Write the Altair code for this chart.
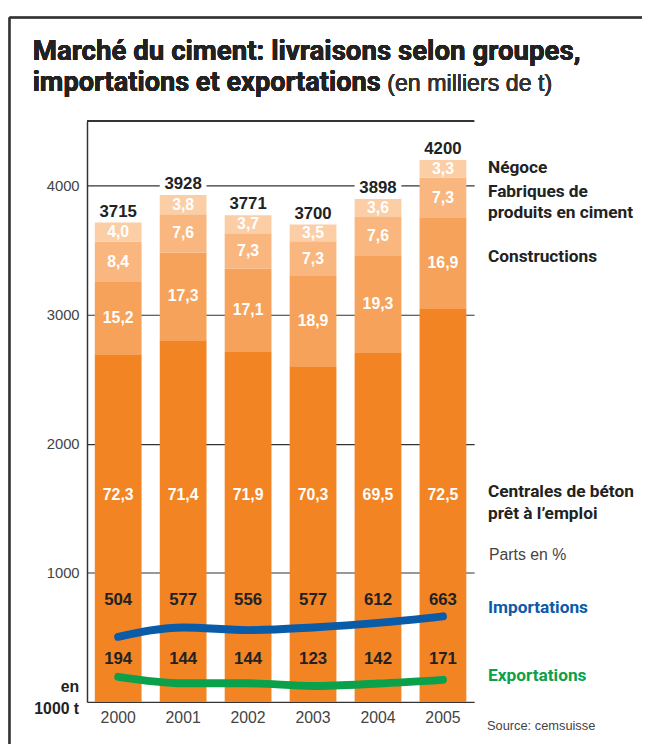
import altair as alt
import pandas as pd

years = ["2000", "2001", "2002", "2003", "2004", "2005"]
totals = [3715, 3928, 3771, 3700, 3898, 4200]
pct_beton = [72.3, 71.4, 71.9, 70.3, 69.5, 72.5]
pct_constr = [15.2, 17.3, 17.1, 18.9, 19.3, 16.9]
pct_fabr = [8.4, 7.6, 7.3, 7.3, 7.6, 7.3]
pct_negoce = [4.0, 3.8, 3.7, 3.5, 3.6, 3.3]
imports = [504, 577, 556, 577, 612, 663]
exports = [194, 144, 144, 123, 142, 171]

groups = ["Centrales de béton", "Constructions", "Fabriques", "Négoce"]
group_colors = ["#F28424", "#F6A25B", "#F9B77F", "#FBCEA5"]

FONT_C = "Roboto, Liberation Sans, sans-serif"
FONT = "Liberation Sans, Arial, Helvetica, sans-serif"

rows = []
for i, y in enumerate(years):
    pcts = [pct_beton[i], pct_constr[i], pct_fabr[i], pct_negoce[i]]
    s = sum(pcts)
    cum = 0.0
    for g, p in zip(groups, pcts):
        y0 = totals[i] * cum / s
        cum += p
        y1 = totals[i] * cum / s
        rows.append({"year": y, "group": g, "y0": y0, "y1": y1, "mid": (y0 + y1) / 2,
                     "label": f"{p:.1f}".replace(".", ",")})
seg = pd.DataFrame(rows)
tot = pd.DataFrame({"year": years, "total": totals})
tot["top_lo"] = tot["total"] + 30
tot["top_hi"] = tot["total"] + 170
trade = pd.DataFrame({"year": years, "imp": imports, "exp": exports})

W, H = 392, 588
xs = alt.Scale(domain=years, paddingInner=0.28, paddingOuter=0.12)
ys = alt.Scale(domain=[0, 4500], nice=False)

base_x = alt.X("year:N", scale=xs, title=None,
               axis=alt.Axis(labelAngle=0, labelFontSize=16, labelColor="#444", labelFont=FONT,
                             ticks=False, domainColor="#333", domainWidth=1.5, labelPadding=8,
                             grid=False))

bars = alt.Chart(seg).mark_bar().encode(
    x=base_x,
    y=alt.Y("y0:Q", scale=ys, title=None,
            axis=alt.Axis(values=[1000, 2000, 3000, 4000], format="d", labelFontSize=15,
                          labelColor="#444", labelFont=FONT, ticks=False, domainColor="#333",
                          domainWidth=1.5, gridColor="#333", gridWidth=1.2, labelPadding=8)),
    y2="y1:Q",
    color=alt.Color("group:N", scale=alt.Scale(domain=groups, range=group_colors), legend=None),
)

white = alt.Chart(tot).mark_bar(color="white").encode(
    x=alt.X("year:N", scale=xs), y=alt.Y("top_lo:Q", scale=ys), y2="top_hi:Q")

tot_text = alt.Chart(tot).mark_text(font=FONT, fontWeight="bold", fontSize=17, color="#222",
                                    baseline="alphabetic", dy=-6).encode(
    x=alt.X("year:N", scale=xs), y=alt.Y("total:Q", scale=ys), text="total:Q")

pct_upper = alt.Chart(seg[seg.group != groups[0]]).mark_text(
    font=FONT, fontWeight="bold", fontSize=16, color="white", baseline="middle").encode(
    x=alt.X("year:N", scale=xs), y=alt.Y("mid:Q", scale=ys), text="label:N")

pct_beton_t = alt.Chart(seg[seg.group == groups[0]]).mark_text(
    font=FONT, fontWeight="bold", fontSize=16, color="white", baseline="middle").encode(
    x=alt.X("year:N", scale=xs), y=alt.datum(1600), text="label:N")

imp_line = alt.Chart(trade).mark_line(color="#0A5BA8", strokeWidth=8, strokeCap="round",
                                      interpolate="monotone").encode(
    x=alt.X("year:N", scale=xs), y=alt.Y("imp:Q", scale=ys))
exp_line = alt.Chart(trade).mark_line(color="#0BA14B", strokeWidth=8, strokeCap="round",
                                      interpolate="monotone").encode(
    x=alt.X("year:N", scale=xs), y=alt.Y("exp:Q", scale=ys))

imp_text = alt.Chart(trade).mark_text(font=FONT, fontWeight="bold", fontSize=17, color="#222",
                                      baseline="middle").encode(
    x=alt.X("year:N", scale=xs), y=alt.datum(790), text="imp:Q")
exp_text = alt.Chart(trade).mark_text(font=FONT, fontWeight="bold", fontSize=17, color="#222",
                                      baseline="middle").encode(
    x=alt.X("year:N", scale=xs), y=alt.datum(330), text="exp:Q")

top_rule = alt.Chart(tot).mark_rule(color="#333", strokeWidth=1.5).encode(y=alt.datum(4500))

# annotations (layout: pixel positions relative to plot origin)
ann_labels = ["Négoce", "Fabriques de", "produits en ciment", "Constructions",
              "Centrales de béton", "prêt à l’emploi", "Importations", "Exportations"]
ann_y = [52, 77, 98, 143, 381, 403, 498, 567]
ann_col = ["#222"] * 6 + ["#0A5BA8", "#0BA14B"]
ann = pd.DataFrame({"t": ann_labels, "py": ann_y, "c": ann_col})
ann_text = alt.Chart(ann).mark_text(font=FONT_C, fontWeight="bold", fontSize=17.5, align="left",
                                    baseline="alphabetic").encode(
    x=alt.value(406), y=alt.Y("py:Q", scale=None), text="t:N", color=alt.Color("c:N", scale=None))

misc = pd.DataFrame({"t": ["Parts en %", "Source: cemsuisse"], "px": [407, 405], "py": [444, 616],
                     "fs": [16, 13]})
misc_text = alt.Chart(misc).mark_text(font=FONT, color="#444", align="left",
                                      baseline="alphabetic").encode(
    x=alt.X("px:Q", scale=None), y=alt.Y("py:Q", scale=None), text="t:N",
    size=alt.Size("fs:Q", scale=None, legend=None))

unit = pd.DataFrame({"t": ["en", "1000 t"], "py": [578, 600]})
unit_text = alt.Chart(unit).mark_text(font=FONT, fontWeight="bold", fontSize=16, color="#222",
                                      align="right", baseline="alphabetic").encode(
    x=alt.value(-8), y=alt.Y("py:Q", scale=None), text="t:N")

title1 = alt.Chart(tot).mark_text(font=FONT_C, fontWeight="bold", fontSize=28, color="#222",
                                  align="left", baseline="alphabetic",
                                  text="Marché du ciment: livraisons selon groupes,").encode(
    x=alt.value(-55), y=alt.value(-62))
title2 = alt.Chart(tot).mark_text(font=FONT_C, fontWeight="bold", fontSize=27.5, color="#222",
                                  align="left", baseline="alphabetic",
                                  text="importations et exportations").encode(
    x=alt.value(-55), y=alt.value(-31))
title3 = alt.Chart(tot).mark_text(font=FONT, fontSize=23.5, color="#333",
                                  align="left", baseline="alphabetic",
                                  text="(en milliers de t)").encode(
    x=alt.value(304), y=alt.value(-31))

frame_v = alt.Chart(tot).mark_rule(color="#333", strokeWidth=1.5).encode(
    x=alt.value(-78.5), y=alt.value(-105), y2=alt.value(700))
frame_h = alt.Chart(tot).mark_rule(color="#333", strokeWidth=1.5).encode(
    x=alt.value(-78.5), x2=alt.value(700), y=alt.value(-105))

chart = alt.layer(
    bars, white, top_rule, tot_text, pct_upper, pct_beton_t, imp_line, exp_line,
    imp_text, exp_text, ann_text, misc_text, unit_text, title1, title2, title3, frame_v, frame_h
).properties(
    width=W, height=H,
    padding={"left": 80, "top": 110, "right": 170, "bottom": 38},
    autosize=alt.AutoSizeParams(type="none"),
    background="white",
).configure_view(stroke=None)

chart.save("out.html", embed_options={"renderer": "svg", "actions": False})
